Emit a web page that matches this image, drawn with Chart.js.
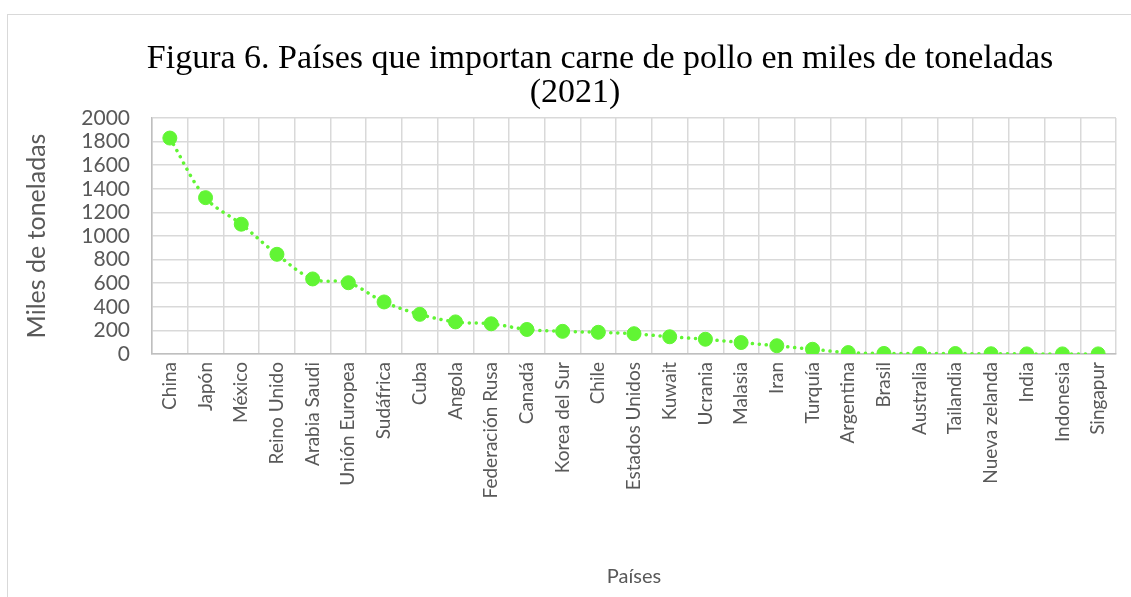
<!DOCTYPE html>
<html>
<head>
<meta charset="utf-8">
<script src="https://cdn.jsdelivr.net/npm/chart.js@4"></script>
<style>
  html, body { margin: 0; padding: 0; background: #fff; }
  #wrap { position: relative; width: 1131px; height: 597px; }
  #frame { position: absolute; left: 7px; top: 14px; width: 1130px; height: 600px; border: 1px solid #d9d9d9; box-sizing: border-box; }
  canvas { position: absolute; left: 0; top: 0; }
</style>
</head>
<body>
<div id="wrap">
  <div id="frame"></div>
  <canvas id="grafico" width="1131" height="597"></canvas>
</div>
<script>
const titleLines = ['Figura 6. Países que importan carne de pollo en miles de toneladas', '(2021)'];
const paises = ['China', 'Japón', 'México', 'Reino Unido', 'Arabia Saudi', 'Unión Europea', 'Sudáfrica',
  'Cuba', 'Angola', 'Federación Rusa', 'Canadá', 'Korea del Sur', 'Chile', 'Estados Unidos', 'Kuwait',
  'Ucrania', 'Malasia', 'Iran', 'Turquía', 'Argentina', 'Brasil', 'Australia', 'Tailandia',
  'Nueva zelanda', 'India', 'Indonesia', 'Singapur'];
const importaciones = [1830, 1325, 1100, 845, 636, 604, 441, 336, 272, 256, 208, 192, 184, 172, 146,
  125, 97, 70, 40, 12, 5, 4, 4, 2, 1, 1, 1];
const yMin = 0;
const yMax = 2000;
const yStep = 200;

const fuente = 'Lato, "Open Sans", sans-serif';

// titulo dibujado a mano para dejar cada linea donde esta en la figura
const tituloPlugin = {
  id: 'tituloFigura',
  afterDraw(chart) {
    const ctx = chart.ctx;
    ctx.save();
    ctx.fillStyle = '#000';
    ctx.font = '34px "Liberation Serif", "Times New Roman", serif';
    ctx.textAlign = 'center';
    ctx.textBaseline = 'alphabetic';
    ctx.fillText(titleLines[0], 600, 68);
    ctx.fillText(titleLines[1], 575, 102);
    ctx.restore();
  }
};

const ctx = document.getElementById('grafico').getContext('2d');
new Chart(ctx, {
  type: 'line',
  data: {
    labels: paises,
    datasets: [{
      label: 'Importaciones',
      data: importaciones,
      borderColor: '#61f534',
      backgroundColor: '#61f534',
      borderWidth: 3.5,
      borderDash: [0.1, 7],
      borderCapStyle: 'round',
      tension: 0.35,
      fill: false,
      pointRadius: 7,
      pointBackgroundColor: '#61f534',
      pointBorderColor: '#61f534',
      pointBorderWidth: 1
    }]
  },
  options: {
    responsive: false,
    animation: false,
    layout: { padding: { top: 118, left: 22, right: 15, bottom: 8 } },
    plugins: {
      legend: { display: false },
      title: { display: false },
      tooltip: { enabled: false }
    },
    scales: {
      x: {
        offset: true,
        grid: { offset: true, color: '#d9d9d9', lineWidth: 1.5, drawTicks: false },
        border: { color: '#bfbfbf', width: 1.5 },
        ticks: {
          color: '#595959',
          font: { family: fuente, size: 19 },
          maxRotation: 90,
          minRotation: 90,
          autoSkip: false,
          padding: 8
        },
        title: {
          display: true,
          text: 'Países',
          color: '#595959',
          font: { family: fuente, size: 20 },
          padding: { top: 0, bottom: 0 }
        },
        afterFit(scale) { scale.height = 597 - 8 - 354; }
      },
      y: {
        min: yMin,
        max: yMax,
        grid: { color: '#d9d9d9', lineWidth: 1.5, drawTicks: false },
        border: { color: '#bfbfbf', width: 1.5 },
        ticks: {
          stepSize: yStep,
          autoSkip: false,
          color: '#595959',
          font: { family: fuente, size: 21 },
          padding: 22,
          callback: function(value) { return value; }
        },
        title: {
          display: true,
          text: 'Miles de toneladas',
          color: '#595959',
          font: { family: fuente, size: 25 },
          padding: { top: 0, bottom: 0 }
        },
        afterFit(scale) { scale.width = 152 - 22; }
      }
    }
  },
  plugins: [tituloPlugin]
});
</script>
</body>
</html>
